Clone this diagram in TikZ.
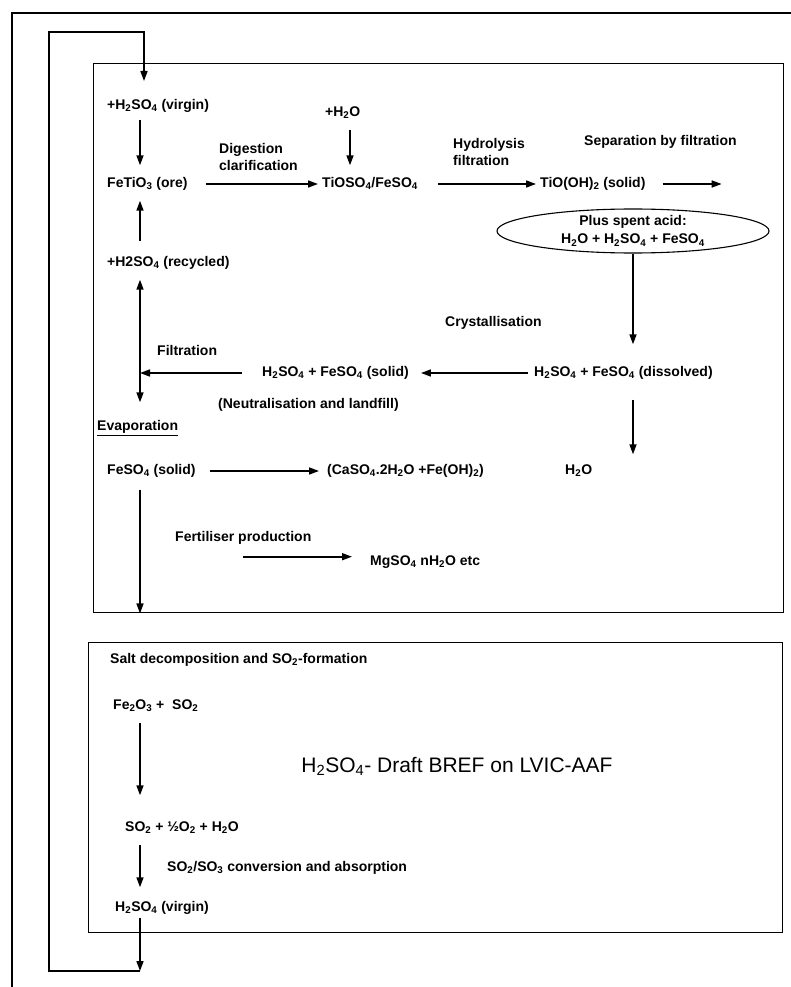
\documentclass[tikz,border=0pt]{standalone}
\usepackage{fontspec}
\setmainfont{Liberation Sans}
\usetikzlibrary{arrows.meta,shapes.geometric,calc}
\newcommand\sbs[1]{\textsubscript{#1}}
\begin{document}
\begin{tikzpicture}[x=1pt,y=-1pt,
  lbl/.style={anchor=west,inner sep=0pt,font=\bfseries\fontsize{14}{16}\selectfont,text height=10pt,text depth=3pt},
  arr/.style={line width=1.6pt,-{Triangle[length=10pt,width=7pt]}},
  darr/.style={line width=1.6pt,{Triangle[length=10pt,width=7pt]}-{Triangle[length=10pt,width=7pt]}},
  frame/.style={line width=1.4pt},
  boxst/.style={draw,line width=1.4pt,anchor=north west,inner sep=0pt},
  ]
\useasboundingbox (0,0) rectangle (791,987);
% page frame
\coordinate (pf1) at (12,987);
\coordinate (pf2) at (12,13);
\coordinate (pf3) at (791,13);
\draw[frame] (pf1) -- (pf2) -- (pf3);
% boxes
\node[boxst,minimum width=690pt,minimum height=549pt] (box1) at (93,63) {};
\node[boxst,minimum width=694pt,minimum height=290pt] (box2) at (88,642) {};
% columns
\coordinate (colA) at (140,0);
\coordinate (colB) at (350,0);
% texts box 1
\node[lbl] (virgin1) at (107,106) {+H\sbs{2}SO\sbs{4} (virgin)};
\node[lbl] (ore) at (107,184) {FeTiO\sbs{3} (ore)};
\node[lbl] (recycled) at (107,263) {+H2SO\sbs{4} (recycled)};
\node[lbl] (h2o1) at (325,113) {+H\sbs{2}O};
\node[lbl] (tioso4) at (322,184) {TiOSO\sbs{4}/FeSO\sbs{4}};
\node[lbl,text height=,text depth=,align=left,font=\bfseries\fontsize{14}{17}\selectfont] (dig) at (219,157) {Digestion\\clarification};
\node[lbl,text height=,text depth=,align=left,font=\bfseries\fontsize{14}{17}\selectfont] (hyd) at (453,152) {Hydrolysis\\filtration};
\node[lbl] (tioh) at (540,184) {TiO(OH)\sbs{2} (solid)};
\node[lbl] (sep) at (584,142) {Separation by filtration};
\node[ellipse,draw,line width=1.1pt,minimum width=272pt,minimum height=44pt,inner sep=0pt,align=center,font=\bfseries\fontsize{14}{18}\selectfont] (spent) at (633,231) {Plus spent acid:\\H\sbs{2}O + H\sbs{2}SO\sbs{4} + FeSO\sbs{4}};
\node[lbl] (cryst) at (445,323) {Crystallisation};
\node[lbl] (filt) at (157,352) {Filtration};
\node[lbl] (solid) at (262,373) {H\sbs{2}SO\sbs{4} + FeSO\sbs{4} (solid)};
\node[lbl] (dissolved) at (534,373) {H\sbs{2}SO\sbs{4} + FeSO\sbs{4} (dissolved)};
\node[lbl] (evap) at (97,427) {\underline{Evaporation}};
\node[lbl] (neut) at (218,405) {(Neutralisation and landfill)};
\node[lbl] (feso4) at (107,471) {FeSO\sbs{4} (solid)};
\node[lbl] (caso4) at (327,471) {(CaSO\sbs{4}.2H\sbs{2}O +Fe(OH)\sbs{2})};
\node[lbl] (h2o2) at (565,471) {H\sbs{2}O};
\node[lbl] (fert) at (175,538) {Fertiliser production};
\node[lbl] (mgso4) at (370,562) {MgSO\sbs{4} nH\sbs{2}O etc};
% texts box 2
\node[lbl] (salt) at (110,660) {Salt decomposition and SO\sbs{2}-formation};
\node[lbl] (fe2o3) at (113,706) {Fe\sbs{2}O\sbs{3} +\ \ SO\sbs{2}};
\node[font=\fontsize{21}{24}\selectfont,inner sep=0pt] (title) at (457,766) {H\sbs{2}SO\sbs{4}- Draft BREF on LVIC-AAF};
\node[lbl] (so2) at (125,828) {SO\sbs{2} + ½O\sbs{2} + H\sbs{2}O};
\node[lbl] (conv) at (167,868) {SO\sbs{2}/SO\sbs{3} conversion and absorption};
\node[lbl] (virgin2) at (115,908) {H\sbs{2}SO\sbs{4} (virgin)};
% arrows box 1
\draw[arr] ($(virgin1.south -| colA)+(0,7)$) -- ($(ore.north -| colA)+(0,-12)$);
\draw[arr] ($(recycled.north -| colA)+(0,-15)$) -- ($(ore.south -| colA)+(0,10)$);
\draw[darr] ($(recycled.south -| colA)+(0,10)$) -- ($(evap.north -| colA)+(0,-18)$);
\draw[arr] ($(h2o1.south -| colB)+(0,10)$) -- ($(tioso4.north -| colB)+(0,-12)$);
\draw[arr] ($(ore.east)+(18,0)$) -- ($(tioso4.west)+(-4,0)$);
\draw[arr] ($(tioso4.east)+(20,0)$) -- ($(tioh.west)+(-4,0)$);
\coordinate (sepend) at ($(tioh.east)+(76,0)$);
\draw[arr] ($(tioh.east)+(17,0)$) -- (sepend);
\draw[arr] (spent.south) -- ($(dissolved.north -| spent.south)+(0,-22)$);
\draw[arr] ($(dissolved.west)+(-6,0)$) -- ($(solid.east)+(12,0)$);
\draw[arr] ($(solid.west)+(-20,0)$) -- (solid.west -| colA);
\draw[arr] ($(dissolved.south -| spent.south)+(0,20)$) -- ($(h2o2.north -| spent.south)+(0,-10)$);
\draw[arr] ($(feso4.east)+(14,0)$) -- ($(caso4.west)+(-8,0)$);
\draw[arr] ($(feso4.south -| colA)+(0,12)$) -- (box1.south -| colA);
\draw[arr] ($(fert.south west)+(68,12)$) -- ($(mgso4.west |- fert.south)+(-18,12)$);
% arrows box 2
\draw[arr] ($(fe2o3.south -| colA)+(0,10)$) -- ($(so2.north -| colA)+(0,-26)$);
\draw[arr] ($(so2.south -| colA)+(0,10)$) -- ($(virgin2.north -| colA)+(0,-14)$);
% recycle loop
\coordinate (lb) at (140,971);
\coordinate (lbl) at (49,971);
\coordinate (ltl) at (49,32);
\coordinate (ltr) at (144,32);
\coordinate (ltip) at (144,81);
\draw[arr] ($(virgin2.south -| colA)+(0,3)$) -- (lb);
\draw[arr,line join=miter] (lb) -- (lbl) -- (ltl) -- (ltr) -- (ltip);
\end{tikzpicture}
\end{document}
